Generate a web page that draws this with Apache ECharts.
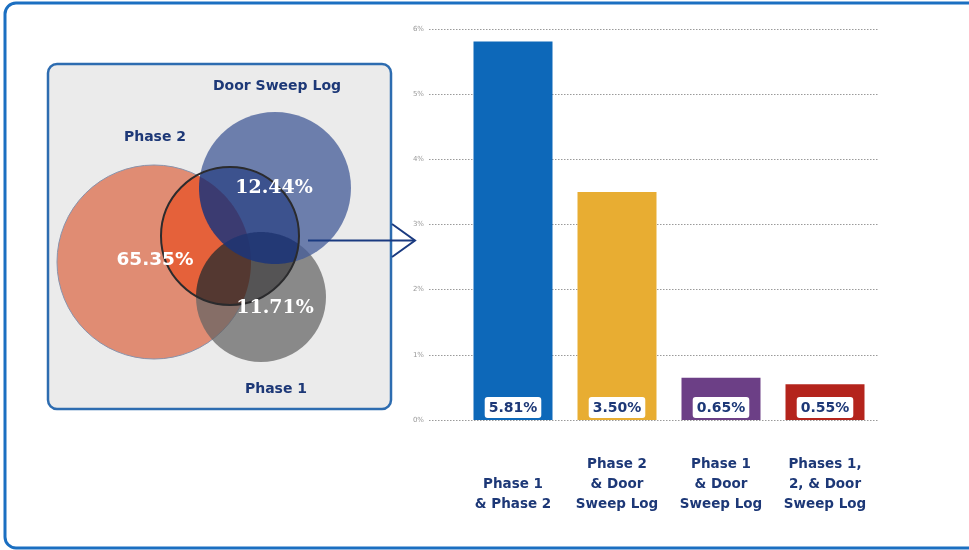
<!DOCTYPE html>
<html>
<head>
<meta charset="utf-8">
<script src="https://cdn.jsdelivr.net/npm/echarts@6/dist/echarts.min.js"></script>
<style>
  html, body { margin: 0; padding: 0; background: #ffffff; }
  #chart { width: 969px; height: 550px; }
</style>
</head>
<body>
<div id="chart"></div>
<script>
// Overlap shares between sources (percent of records)
const categories = [
  'Phase 1\n& Phase 2',
  'Phase 2\n& Door\nSweep Log',
  'Phase 1\n& Door\nSweep Log',
  'Phases 1,\n2, & Door\nSweep Log'
];
const overlapShares = [5.81, 3.50, 0.65, 0.55];
const barColors = ['#0d68b9', '#e8ad32', '#6c3f86', '#b4241c'];
const yTicks = [0, 1, 2, 3, 4, 5, 6];

// Venn diagram: set names and the share shown in each set
const vennSets = ['Phase 2', 'Door Sweep Log', 'Phase 1'];
const vennShares = ['65.35%', '12.44%', '11.71%'];

const NAVY = '#1d3877';
const SANS = '"DejaVu Sans", "Open Sans", sans-serif';
const SERIF = '"DejaVu Serif", "Liberation Serif", serif';

// Venn geometry (layout only)
const C = {
  p2:    { cx: 154, cy: 262, r: 97 },
  door:  { cx: 275, cy: 188, r: 76 },
  p1:    { cx: 261, cy: 297, r: 65 },
  focus: { cx: 230, cy: 236, r: 69 }
};

// Polygon of the intersection of two circles (convex lens)
function lens(a, b) {
  const n = 360, pts = [];
  const collect = (s, o) => {
    for (let i = 0; i < n; i++) {
      const t = 2 * Math.PI * i / n;
      const x = s.cx + s.r * Math.cos(t), y = s.cy + s.r * Math.sin(t);
      if (Math.hypot(x - o.cx, y - o.cy) <= o.r + 0.01) pts.push([x, y]);
    }
  };
  collect(a, b); collect(b, a);
  let mx = 0, my = 0;
  pts.forEach(p => { mx += p[0]; my += p[1]; });
  mx /= pts.length; my /= pts.length;
  pts.sort((p, q) => Math.atan2(p[1] - my, p[0] - mx) - Math.atan2(q[1] - my, q[0] - mx));
  return pts;
}

const circleEl = (c, fill, stroke, lw) => ({
  type: 'circle', shape: { cx: c.cx, cy: c.cy, r: c.r },
  style: { fill: fill, stroke: stroke || 'none', lineWidth: lw || 0 }, silent: true
});
const polyEl = (pts, fill) => ({
  type: 'polygon', shape: { points: pts }, style: { fill: fill }, silent: true
});
const textEl = (x, y, txt, size, color, family) => ({
  type: 'text', x: x, y: y, silent: true,
  style: { text: txt, fill: color, font: 'bold ' + size + 'px ' + family,
           align: 'center', verticalAlign: 'middle' }
});

const graphics = [
  // outer frame
  { type: 'rect', shape: { x: 5, y: 3, width: 1000, height: 545, r: 11 },
    style: { fill: 'none', stroke: '#1b6fc1', lineWidth: 3 }, silent: true },
  // Venn panel
  { type: 'rect', shape: { x: 48, y: 64, width: 343, height: 345, r: 9 },
    style: { fill: '#ebebeb', stroke: '#2d6cb0', lineWidth: 2.5 }, silent: true },
  circleEl(C.p2, '#e08c73', '#8a93ab', 1),
  circleEl(C.p1, 'rgba(98,98,98,0.72)'),
  circleEl(C.door, 'rgba(68,92,152,0.76)'),
  // focus circle: stronger colours inside
  circleEl(C.focus, '#ebebeb'),
  polyEl(lens(C.p2, C.focus), '#e5613a'),
  polyEl(lens(C.p1, C.focus), 'rgba(48,46,48,0.8)'),
  polyEl(lens(C.door, C.focus), 'rgba(26,52,124,0.84)'),
  circleEl(C.focus, 'none', '#2b2b2d', 2),
  // set names
  textEl(155, 137, vennSets[0], 14, NAVY, SANS),
  textEl(277, 86, vennSets[1], 14, NAVY, SANS),
  textEl(276, 389, vennSets[2], 14, NAVY, SANS),
  // shares
  textEl(155, 260, vennShares[0], 18.5, '#ffffff', SANS),
  textEl(274, 188, vennShares[1], 19, '#ffffff', SERIF),
  textEl(275, 308, vennShares[2], 19, '#ffffff', SERIF),
  // arrow to the bar chart
  { type: 'line', shape: { x1: 308, y1: 240.5, x2: 415, y2: 240.5 },
    style: { stroke: '#1a3a80', lineWidth: 2 }, silent: true },
  { type: 'polyline', shape: { points: [[392, 224], [415, 240.5], [392, 257]] },
    style: { stroke: '#1a3a80', lineWidth: 2, fill: 'none' }, silent: true }
];

const chart = echarts.init(document.getElementById('chart'));
chart.setOption({
  animation: false,
  backgroundColor: '#ffffff',
  grid: [
    { left: 429, right: 91, top: 29, bottom: 130 },
    { left: 461, right: 92, top: 29, bottom: 130 }
  ],
  xAxis: [
    { gridIndex: 0, type: 'value', show: false, min: 0, max: 1 },
    {
      gridIndex: 1, type: 'category', data: categories,
      axisLine: { show: false }, axisTick: { show: false },
      axisLabel: {
        interval: 0, margin: 94, verticalAlign: 'bottom',
        color: NAVY, fontFamily: SANS, fontWeight: 'bold', fontSize: 13.5, lineHeight: 20
      }
    }
  ],
  yAxis: [
    {
      gridIndex: 0, type: 'value', min: yTicks[0], max: yTicks[yTicks.length - 1], interval: 1,
      axisLine: { show: false }, axisTick: { show: false },
      axisLabel: { formatter: '{value}%', fontSize: 7, color: '#999999', margin: 5, fontFamily: SANS },
      splitLine: { lineStyle: { type: [1.5, 1.5], color: '#9a9a9a', width: 1 } }
    },
    { gridIndex: 1, type: 'value', min: yTicks[0], max: yTicks[yTicks.length - 1], show: false }
  ],
  series: [{
    type: 'bar', xAxisIndex: 1, yAxisIndex: 1, barWidth: 79,
    data: overlapShares.map((v, i) => ({ value: v, itemStyle: { color: barColors[i] } })),
    label: {
      show: true, position: 'insideBottom', distance: 2,
      formatter: p => p.value.toFixed(2) + '%',
      backgroundColor: '#ffffff', borderRadius: 3, padding: [2, 4, 1, 4],
      color: NAVY, fontFamily: SANS, fontWeight: 'bold', fontSize: 14, lineHeight: 18
    }
  }],
  graphic: graphics
});
</script>
</body>
</html>
